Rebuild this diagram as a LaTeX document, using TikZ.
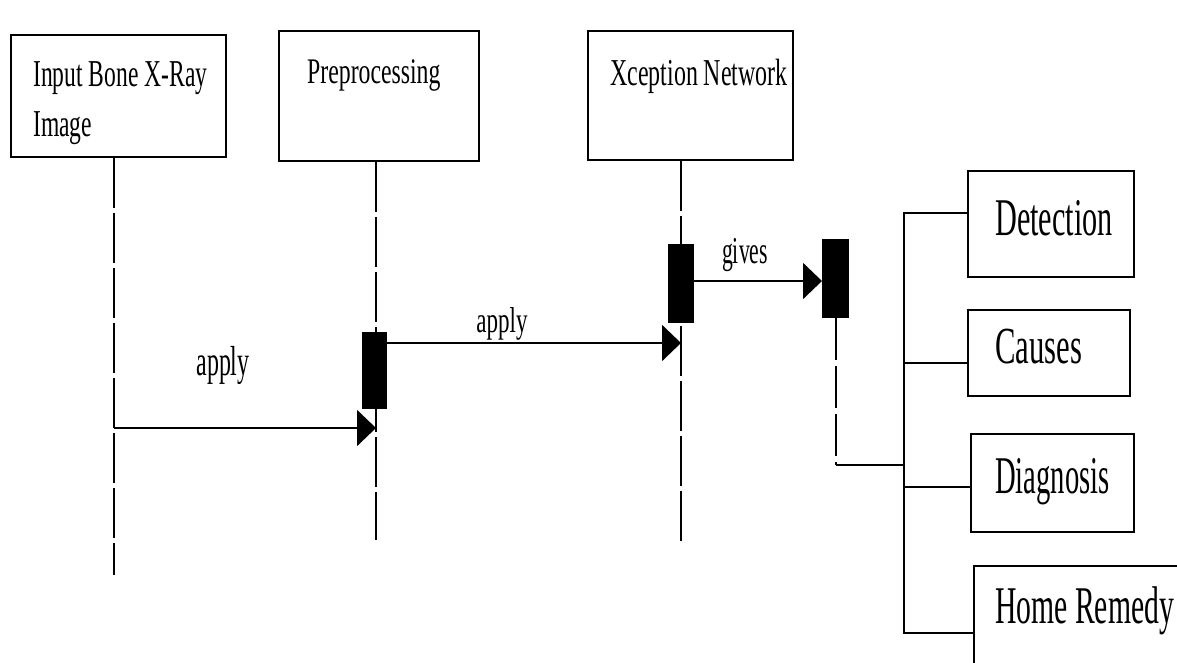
\documentclass[tikz,border=0pt]{standalone}
\usepackage{fontspec}
\setmainfont{Liberation Serif}
\usetikzlibrary{arrows.meta}
\newcommand{\hsq}[3]{\scalebox{#1}[1]{\fontsize{#2}{#2}\selectfont #3}}
\begin{document}
\begin{tikzpicture}[x=1pt,y=-1pt,
  box/.style={draw=black, line width=2pt, rectangle, anchor=north west, inner sep=0pt},
  actbox/.style={fill=black, draw=black, line width=0.5pt, rectangle, anchor=north west, inner sep=0pt},
  lbl/.style={inner sep=0pt, anchor=base west, text=black},
  mlbl/.style={inner sep=0pt, anchor=base, text=black},
  lifeline/.style={line width=1.4pt, dash pattern=on 50pt off 5pt},
  msg/.style={line width=1.8pt, -{Triangle[length=19pt,width=36pt]}},
  wire/.style={line width=2pt}]
\useasboundingbox (0,0) rectangle (1177,662);
\clip (0,0) rectangle (1177,662);
\fill[white] (0,0) rectangle (1177,662);

% lifeline heads
\node[box, minimum width=215pt, minimum height=122pt] (b1) at (10,34) {};
\node[box, minimum width=200pt, minimum height=130pt] (b2) at (278,30) {};
\node[box, minimum width=205pt, minimum height=129pt] (b3) at (587,30) {};

\node[lbl] (t1a) at (33,86) {\hsq{0.62}{38}{Input Bone X-Ray}};
\node[lbl] (t1b) at (33,136) {\hsq{0.62}{38}{Image}};
\node[lbl] (t2) at (307,83) {\hsq{0.66}{36}{Preprocessing}};
\node[lbl] (t3) at (610,85) {\hsq{0.63}{38}{Xception Network}};

% lifelines
\coordinate (l1e) at (114,575);
\coordinate (l2e) at (376,540);
\coordinate (l3e) at (681,545);
\draw[lifeline] (b1.south -| l1e) -- (l1e);
\draw[lifeline] (b2.south -| l2e) -- (l2e);
\draw[lifeline] (b3.south -| l3e) -- (l3e);

% activations
\node[actbox, minimum width=24pt, minimum height=76pt] (a2) at (362,332) {};
\node[actbox, minimum width=25pt, minimum height=78pt] (a3) at (668,244) {};
\node[actbox, minimum width=26pt, minimum height=78pt] (a4) at (822,239) {};

% messages
\coordinate (m1y) at (0,428);
\coordinate (m2y) at (0,343);
\coordinate (m3y) at (0,281);
\draw[msg] (l1e |- m1y) -- (l2e |- m1y);
\draw[msg] (a2.east |- m2y) -- (l3e |- m2y);
\draw[msg] (a3.east |- m3y) -- (a4.west |- m3y);
\node[mlbl] (ap1) at (223,375) {\hsq{0.57}{42}{apply}};
\node[mlbl] (ap2) at (502,332) {\hsq{0.64}{36}{apply}};
\node[mlbl] (gv) at (745,263) {\hsq{0.57}{38}{gives}};

% result boxes
\node[box, minimum width=166pt, minimum height=106pt] (det) at (967,170) {};
\node[box, minimum width=162pt, minimum height=86pt] (cau) at (967,309) {};
\node[box, minimum width=163pt, minimum height=98pt] (dia) at (970,433) {};
\node[box, minimum width=260pt, minimum height=160pt] (hr) at (973,565) {};

\node[lbl] (td) at (995,235) {\hsq{0.57}{53}{Detection}};
\node[lbl] (tc) at (995,363) {\hsq{0.59}{52}{Causes}};
\node[lbl] (tg) at (995,493) {\hsq{0.54}{53}{Diagnosis}};
\node[lbl] (th) at (995,623) {\hsq{0.56}{53}{Home Remedy}};

% fan-out
\coordinate (c4) at (836,465);
\coordinate (j1) at (904,213);
\coordinate (j2) at (904,363);
\coordinate (j3) at (904,487);
\coordinate (j4) at (904,633);
\draw[lifeline, dash pattern=on 42pt off 6pt] (a4.south -| c4) -- (c4);
\draw[wire] (c4) -- (c4 -| j1);
\draw[wire] (det.west |- j1) -- (j1) -- (j4) -- (hr.west |- j4);
\draw[wire] (j2) -- (cau.west |- j2);
\draw[wire] (j3) -- (dia.west |- j3);
\end{tikzpicture}
\end{document}
